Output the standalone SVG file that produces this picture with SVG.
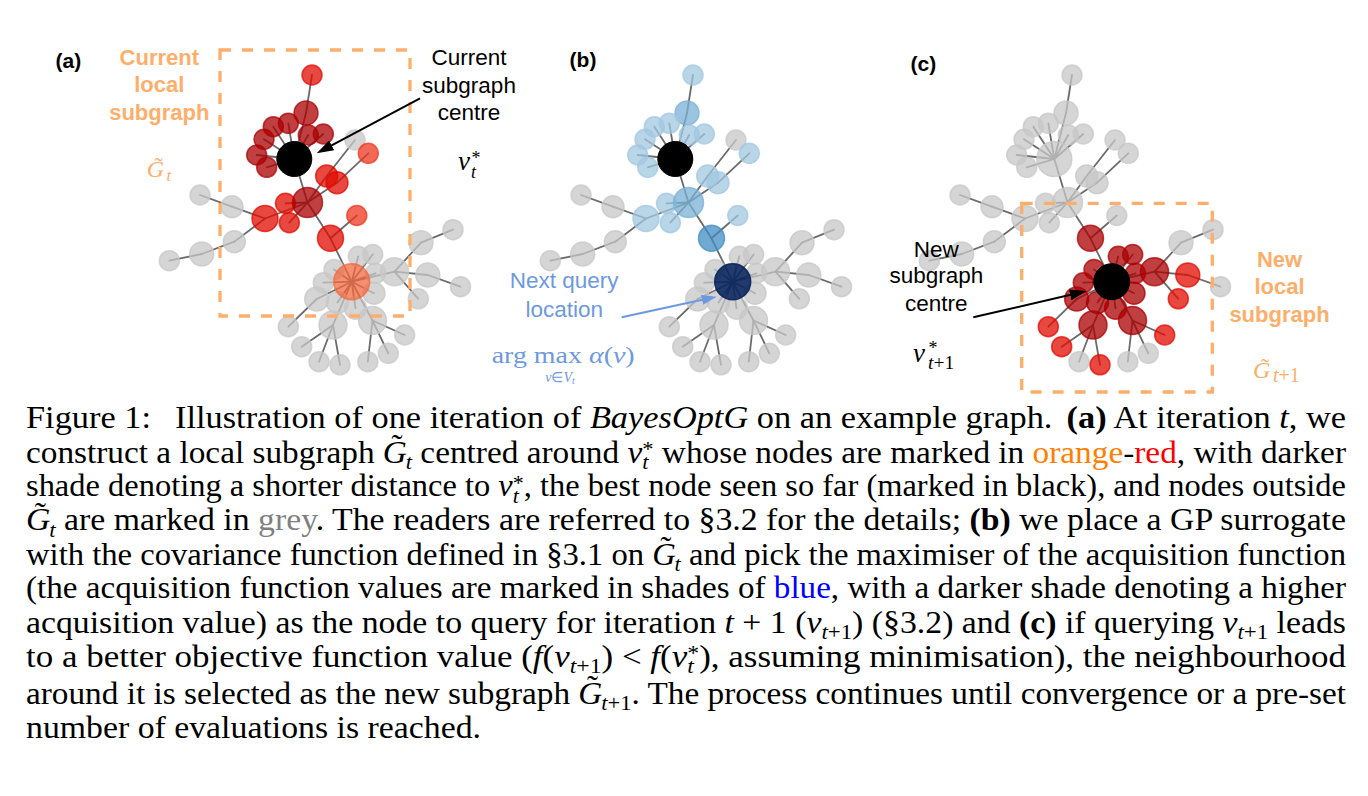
<svg xmlns="http://www.w3.org/2000/svg" width="1368" height="796" viewBox="0 0 1368 796">
<style>
.pl{font-family:"Liberation Sans",Arial,sans-serif;font-weight:bold;font-size:21px;text-anchor:middle;fill:#000}
.ol{font-family:"Liberation Sans",Arial,sans-serif;font-weight:bold;font-size:22px;text-anchor:middle;fill:#fdae6b}
.kl{font-family:"Liberation Sans",Arial,sans-serif;font-size:22.5px;text-anchor:middle;fill:#000}
.bl{font-family:"Liberation Sans",Arial,sans-serif;font-size:22.5px;text-anchor:middle;fill:#6d99e0}
.m{font-family:"Liberation Serif","Times New Roman",serif}
.cap{font-family:"Liberation Serif","Times New Roman",serif;font-size:31px;fill:#000}
.i{font-style:italic}
.bd{font-weight:bold}
.s{font-size:21px}
.gy,.dr,.mr,.lr,.or,.lb,.b2,.mb{fill-opacity:.75;stroke-opacity:.75;stroke-width:1.5}
.gy{fill:#c7c7c7;stroke:#c7c7c7}
.dr{fill:#ab0003;stroke:#ab0003}
.mr{fill:#e00b00;stroke:#e00b00}
.lr{fill:#ee3720;stroke:#ee3720}
.or{fill:#f36840;stroke:#f36840}
.lb{fill:#a2c7e0;stroke:#a2c7e0}
.b2{fill:#7ab0d7;stroke:#7ab0d7}
.mb{fill:#408ec3;stroke:#408ec3}
.nv{fill:#0a265e;stroke:#0a265e;fill-opacity:.9;stroke-opacity:.9;stroke-width:1.5}
.k{fill:#000;stroke:#000}
.box{fill:none;stroke:#fdae6b;stroke-width:3.3;stroke-dasharray:11 11}
</style>
<defs>
<marker id="ahk" viewBox="0 0 17 11" markerWidth="17" markerHeight="11" refX="7" refY="5.5" orient="auto" markerUnits="userSpaceOnUse"><path d="M0,0 L17,5.5 L0,11 z" fill="#000"/></marker>
<marker id="ahb" viewBox="0 0 15 10" markerWidth="15" markerHeight="10" refX="5" refY="5" orient="auto" markerUnits="userSpaceOnUse"><path d="M0,0 L15,5 L0,10 z" fill="#6d99e0"/></marker>
<g id="E">
<line x1="312" y1="75" x2="306" y2="113"/>
<line x1="306" y1="113" x2="294.3" y2="159"/>
<line x1="294.3" y1="159" x2="273.3" y2="126.7"/>
<line x1="294.3" y1="159" x2="288.3" y2="123.3"/>
<line x1="294.3" y1="159" x2="264" y2="139.3"/>
<line x1="294.3" y1="159" x2="256.7" y2="155"/>
<line x1="294.3" y1="159" x2="266.7" y2="167.3"/>
<line x1="294.3" y1="159" x2="308.3" y2="135"/>
<line x1="294.3" y1="159" x2="323.3" y2="134"/>
<line x1="294.3" y1="159" x2="307.5" y2="202.5"/>
<line x1="307.5" y1="202.5" x2="326.7" y2="176"/>
<line x1="326.7" y1="176" x2="355" y2="140"/>
<line x1="307.5" y1="202.5" x2="337" y2="182.7"/>
<line x1="337" y1="182.7" x2="368.3" y2="153.3"/>
<line x1="307.5" y1="202.5" x2="285.5" y2="203.3"/>
<line x1="307.5" y1="202.5" x2="289.3" y2="222.7"/>
<line x1="307.5" y1="202.5" x2="265" y2="218.5"/>
<line x1="265" y1="218.5" x2="232" y2="206.7"/>
<line x1="232" y1="206.7" x2="200" y2="195"/>
<line x1="265" y1="218.5" x2="234.3" y2="241.7"/>
<line x1="234.3" y1="241.7" x2="201.7" y2="254"/>
<line x1="201.7" y1="254" x2="169.3" y2="260.7"/>
<line x1="307.5" y1="202.5" x2="330.5" y2="238.3"/>
<line x1="330.5" y1="238.3" x2="356.8" y2="215.5"/>
<line x1="330.5" y1="238.3" x2="351.7" y2="281.7"/>
<line x1="351.7" y1="281.7" x2="358.3" y2="256.3"/>
<line x1="351.7" y1="281.7" x2="372.7" y2="254.5"/>
<line x1="351.7" y1="281.7" x2="334" y2="269.5"/>
<line x1="351.7" y1="281.7" x2="323.3" y2="282.7"/>
<line x1="351.7" y1="281.7" x2="316.7" y2="299"/>
<line x1="351.7" y1="281.7" x2="337.5" y2="302.5"/>
<line x1="351.7" y1="281.7" x2="355.5" y2="308.3"/>
<line x1="351.7" y1="281.7" x2="374" y2="293.3"/>
<line x1="351.7" y1="281.7" x2="375.5" y2="273.3"/>
<line x1="351.7" y1="281.7" x2="394.5" y2="271.7"/>
<line x1="351.7" y1="281.7" x2="333" y2="325"/>
<line x1="351.7" y1="281.7" x2="372.5" y2="320.5"/>
<line x1="316.7" y1="299" x2="288.3" y2="326.7"/>
<line x1="394.5" y1="271.7" x2="421" y2="242.7"/>
<line x1="421" y1="242.7" x2="453" y2="229.7"/>
<line x1="394.5" y1="271.7" x2="427.8" y2="275"/>
<line x1="427.8" y1="275" x2="460.5" y2="286.7"/>
<line x1="394.5" y1="271.7" x2="418.3" y2="298.8"/>
<line x1="333" y1="325" x2="301.7" y2="346.7"/>
<line x1="333" y1="325" x2="319" y2="361.7"/>
<line x1="333" y1="325" x2="340" y2="364.8"/>
<line x1="372.5" y1="320.5" x2="367.8" y2="361.7"/>
<line x1="372.5" y1="320.5" x2="388.3" y2="353.3"/>
<line x1="372.5" y1="320.5" x2="404.7" y2="335"/>
</g>
<circle id="g3" cx="200" cy="195" r="10"/>
<circle id="g2" cx="232" cy="206.7" r="11"/>
<circle id="g6" cx="169.3" cy="260.7" r="10"/>
<circle id="g5" cx="201.7" cy="254" r="12"/>
<circle id="g4" cx="234.3" cy="241.7" r="11"/>
<circle id="top" cx="312" cy="75" r="10"/>
<circle id="n2" cx="306" cy="113" r="12"/>
<circle id="a1" cx="273.3" cy="126.7" r="10"/>
<circle id="a2" cx="288.3" cy="123.3" r="10"/>
<circle id="a3" cx="264" cy="139.3" r="10"/>
<circle id="a4" cx="256.7" cy="155" r="10"/>
<circle id="a5" cx="266.7" cy="167.3" r="10"/>
<circle id="a6" cx="308.3" cy="135" r="10"/>
<circle id="a7" cx="323.3" cy="134" r="10"/>
<circle id="g1" cx="355" cy="140" r="10"/>
<circle id="lr1" cx="368.3" cy="153.3" r="10"/>
<circle id="m1" cx="326.7" cy="176" r="11"/>
<circle id="m2" cx="337" cy="182.7" r="11"/>
<circle id="m3" cx="285.5" cy="203.3" r="10"/>
<circle id="m4" cx="289.3" cy="222.7" r="10"/>
<circle id="m5" cx="265" cy="218.5" r="13"/>
<circle id="lr2" cx="356.8" cy="215.5" r="10"/>
<circle id="R1" cx="330.5" cy="238.3" r="13"/>
<circle id="H" cx="307.5" cy="202.5" r="15"/>
<circle id="x1" cx="288.3" cy="326.7" r="10"/>
<circle id="h3a" cx="301.7" cy="346.7" r="10"/>
<circle id="h3b" cx="319" cy="361.7" r="10"/>
<circle id="h3c" cx="340" cy="364.8" r="10"/>
<circle id="h4a" cx="367.8" cy="361.7" r="10"/>
<circle id="h4b" cx="388.3" cy="353.3" r="10"/>
<circle id="h4c" cx="404.7" cy="335" r="10"/>
<circle id="H3" cx="333" cy="325" r="14"/>
<circle id="H4" cx="372.5" cy="320.5" r="14"/>
<circle id="h2a" cx="421" cy="242.7" r="12"/>
<circle id="h2b" cx="453" cy="229.7" r="10"/>
<circle id="h2c" cx="427.8" cy="275" r="12"/>
<circle id="h2d" cx="460.5" cy="286.7" r="10"/>
<circle id="h2e" cx="418.3" cy="298.8" r="10"/>
<circle id="H2" cx="394.5" cy="271.7" r="14"/>
<circle id="s1" cx="358.3" cy="256.3" r="10"/>
<circle id="s2" cx="372.7" cy="254.5" r="10"/>
<circle id="s3" cx="334" cy="269.5" r="10"/>
<circle id="s4" cx="323.3" cy="282.7" r="10"/>
<circle id="s5" cx="316.7" cy="299" r="12"/>
<circle id="s6" cx="337.5" cy="302.5" r="11"/>
<circle id="s7" cx="355.5" cy="308.3" r="11"/>
<circle id="s8" cx="374" cy="293.3" r="11"/>
<circle id="s9" cx="375.5" cy="273.3" r="10"/>
<circle id="S" cx="351.7" cy="281.7" r="18"/>
<circle id="B" cx="294.3" cy="159" r="17.5"/>
</defs>
<rect width="1368" height="796" fill="#fff"/>

<g id="connectors" fill="none" stroke="#6b6b6b" stroke-width="1.8" stroke-linecap="round">
<use href="#E"/>
<use href="#E" x="381"/>
<use href="#E" x="760"/>
</g>

<g id="panel-a">
<g id="a-g3" class="gy"><use href="#g3"/></g>
<g id="a-g2" class="gy"><use href="#g2"/></g>
<g id="a-g6" class="gy"><use href="#g6"/></g>
<g id="a-g5" class="gy"><use href="#g5"/></g>
<g id="a-g4" class="gy"><use href="#g4"/></g>
<g id="a-top" class="mr"><use href="#top"/></g>
<g id="a-n2" class="dr"><use href="#n2"/></g>
<g id="a-a1" class="dr"><use href="#a1"/></g>
<g id="a-a2" class="dr"><use href="#a2"/></g>
<g id="a-a3" class="dr"><use href="#a3"/></g>
<g id="a-a4" class="dr"><use href="#a4"/></g>
<g id="a-a5" class="dr"><use href="#a5"/></g>
<g id="a-a6" class="dr"><use href="#a6"/></g>
<g id="a-a7" class="dr"><use href="#a7"/></g>
<g id="a-g1" class="gy"><use href="#g1"/></g>
<g id="a-lr1" class="lr"><use href="#lr1"/></g>
<g id="a-m1" class="mr"><use href="#m1"/></g>
<g id="a-m2" class="mr"><use href="#m2"/></g>
<g id="a-m3" class="mr"><use href="#m3"/></g>
<g id="a-m4" class="mr"><use href="#m4"/></g>
<g id="a-m5" class="mr"><use href="#m5"/></g>
<g id="a-lr2" class="lr"><use href="#lr2"/></g>
<g id="a-R1" class="mr"><use href="#R1"/></g>
<g id="a-H" class="dr"><use href="#H"/></g>
<g id="a-x1" class="gy"><use href="#x1"/></g>
<g id="a-h3a" class="gy"><use href="#h3a"/></g>
<g id="a-h3b" class="gy"><use href="#h3b"/></g>
<g id="a-h3c" class="gy"><use href="#h3c"/></g>
<g id="a-h4a" class="gy"><use href="#h4a"/></g>
<g id="a-h4b" class="gy"><use href="#h4b"/></g>
<g id="a-h4c" class="gy"><use href="#h4c"/></g>
<g id="a-H3" class="gy"><use href="#H3"/></g>
<g id="a-H4" class="gy"><use href="#H4"/></g>
<g id="a-h2a" class="gy"><use href="#h2a"/></g>
<g id="a-h2b" class="gy"><use href="#h2b"/></g>
<g id="a-h2c" class="gy"><use href="#h2c"/></g>
<g id="a-h2d" class="gy"><use href="#h2d"/></g>
<g id="a-h2e" class="gy"><use href="#h2e"/></g>
<g id="a-H2" class="gy"><use href="#H2"/></g>
<g id="a-s1" class="gy"><use href="#s1"/></g>
<g id="a-s2" class="gy"><use href="#s2"/></g>
<g id="a-s3" class="gy"><use href="#s3"/></g>
<g id="a-s4" class="gy"><use href="#s4"/></g>
<g id="a-s5" class="gy"><use href="#s5"/></g>
<g id="a-s6" class="gy"><use href="#s6"/></g>
<g id="a-s7" class="gy"><use href="#s7"/></g>
<g id="a-s8" class="gy"><use href="#s8"/></g>
<g id="a-s9" class="gy"><use href="#s9"/></g>
<g id="a-S" class="or"><use href="#S"/></g>
<g id="a-B" class="k"><use href="#B"/></g>
</g>

<g id="panel-b" transform="translate(381,0)">
<g id="b-g3" class="gy"><use href="#g3"/></g>
<g id="b-g2" class="gy"><use href="#g2"/></g>
<g id="b-g6" class="gy"><use href="#g6"/></g>
<g id="b-g5" class="gy"><use href="#g5"/></g>
<g id="b-g4" class="gy"><use href="#g4"/></g>
<g id="b-top" class="lb"><use href="#top"/></g>
<g id="b-n2" class="b2"><use href="#n2"/></g>
<g id="b-a1" class="lb"><use href="#a1"/></g>
<g id="b-a2" class="lb"><use href="#a2"/></g>
<g id="b-a3" class="lb"><use href="#a3"/></g>
<g id="b-a4" class="lb"><use href="#a4"/></g>
<g id="b-a5" class="lb"><use href="#a5"/></g>
<g id="b-a6" class="lb"><use href="#a6"/></g>
<g id="b-a7" class="lb"><use href="#a7"/></g>
<g id="b-g1" class="gy"><use href="#g1"/></g>
<g id="b-lr1" class="lb"><use href="#lr1"/></g>
<g id="b-m1" class="lb"><use href="#m1"/></g>
<g id="b-m2" class="lb"><use href="#m2"/></g>
<g id="b-m3" class="lb"><use href="#m3"/></g>
<g id="b-m4" class="lb"><use href="#m4"/></g>
<g id="b-m5" class="lb"><use href="#m5"/></g>
<g id="b-lr2" class="lb"><use href="#lr2"/></g>
<g id="b-R1" class="mb"><use href="#R1"/></g>
<g id="b-H" class="b2"><use href="#H"/></g>
<g id="b-x1" class="gy"><use href="#x1"/></g>
<g id="b-h3a" class="gy"><use href="#h3a"/></g>
<g id="b-h3b" class="gy"><use href="#h3b"/></g>
<g id="b-h3c" class="gy"><use href="#h3c"/></g>
<g id="b-h4a" class="gy"><use href="#h4a"/></g>
<g id="b-h4b" class="gy"><use href="#h4b"/></g>
<g id="b-h4c" class="gy"><use href="#h4c"/></g>
<g id="b-H3" class="gy"><use href="#H3"/></g>
<g id="b-H4" class="gy"><use href="#H4"/></g>
<g id="b-h2a" class="gy"><use href="#h2a"/></g>
<g id="b-h2b" class="gy"><use href="#h2b"/></g>
<g id="b-h2c" class="gy"><use href="#h2c"/></g>
<g id="b-h2d" class="gy"><use href="#h2d"/></g>
<g id="b-h2e" class="gy"><use href="#h2e"/></g>
<g id="b-H2" class="gy"><use href="#H2"/></g>
<g id="b-s1" class="gy"><use href="#s1"/></g>
<g id="b-s2" class="gy"><use href="#s2"/></g>
<g id="b-s3" class="gy"><use href="#s3"/></g>
<g id="b-s4" class="gy"><use href="#s4"/></g>
<g id="b-s5" class="gy"><use href="#s5"/></g>
<g id="b-s6" class="gy"><use href="#s6"/></g>
<g id="b-s7" class="gy"><use href="#s7"/></g>
<g id="b-s8" class="gy"><use href="#s8"/></g>
<g id="b-s9" class="gy"><use href="#s9"/></g>
<g id="b-S" class="nv"><use href="#S"/></g>
<g id="b-B" class="k"><use href="#B"/></g>
</g>

<g id="panel-c" transform="translate(760,0)">
<g id="c-g3" class="gy"><use href="#g3"/></g>
<g id="c-g2" class="gy"><use href="#g2"/></g>
<g id="c-g6" class="gy"><use href="#g6"/></g>
<g id="c-g5" class="gy"><use href="#g5"/></g>
<g id="c-g4" class="gy"><use href="#g4"/></g>
<g id="c-top" class="gy"><use href="#top"/></g>
<g id="c-n2" class="gy"><use href="#n2"/></g>
<g id="c-a1" class="gy"><use href="#a1"/></g>
<g id="c-a2" class="gy"><use href="#a2"/></g>
<g id="c-a3" class="gy"><use href="#a3"/></g>
<g id="c-a4" class="gy"><use href="#a4"/></g>
<g id="c-a5" class="gy"><use href="#a5"/></g>
<g id="c-a6" class="gy"><use href="#a6"/></g>
<g id="c-a7" class="gy"><use href="#a7"/></g>
<g id="c-g1" class="gy"><use href="#g1"/></g>
<g id="c-lr1" class="gy"><use href="#lr1"/></g>
<g id="c-m1" class="gy"><use href="#m1"/></g>
<g id="c-m2" class="gy"><use href="#m2"/></g>
<g id="c-m3" class="gy"><use href="#m3"/></g>
<g id="c-m4" class="gy"><use href="#m4"/></g>
<g id="c-m5" class="gy"><use href="#m5"/></g>
<g id="c-lr2" class="gy"><use href="#lr2"/></g>
<g id="c-R1" class="dr"><use href="#R1"/></g>
<g id="c-H" class="gy"><use href="#H"/></g>
<g id="c-x1" class="mr"><use href="#x1"/></g>
<g id="c-h3a" class="mr"><use href="#h3a"/></g>
<g id="c-h3b" class="gy"><use href="#h3b"/></g>
<g id="c-h3c" class="mr"><use href="#h3c"/></g>
<g id="c-h4a" class="gy"><use href="#h4a"/></g>
<g id="c-h4b" class="gy"><use href="#h4b"/></g>
<g id="c-h4c" class="mr"><use href="#h4c"/></g>
<g id="c-H3" class="dr"><use href="#H3"/></g>
<g id="c-H4" class="dr"><use href="#H4"/></g>
<g id="c-h2a" class="gy"><use href="#h2a"/></g>
<g id="c-h2b" class="gy"><use href="#h2b"/></g>
<g id="c-h2c" class="mr"><use href="#h2c"/></g>
<g id="c-h2d" class="gy"><use href="#h2d"/></g>
<g id="c-h2e" class="mr"><use href="#h2e"/></g>
<g id="c-H2" class="dr"><use href="#H2"/></g>
<g id="c-s1" class="dr"><use href="#s1"/></g>
<g id="c-s2" class="dr"><use href="#s2"/></g>
<g id="c-s3" class="dr"><use href="#s3"/></g>
<g id="c-s4" class="dr"><use href="#s4"/></g>
<g id="c-s5" class="dr"><use href="#s5"/></g>
<g id="c-s6" class="dr"><use href="#s6"/></g>
<g id="c-s7" class="dr"><use href="#s7"/></g>
<g id="c-s8" class="dr"><use href="#s8"/></g>
<g id="c-s9" class="dr"><use href="#s9"/></g>
<g id="c-S" class="k"><use href="#S"/></g>
<g id="c-B" class="gy"><use href="#B"/></g>
</g>

<g id="subgraph-boxes">
<rect class="box" x="220" y="50" width="190" height="266"/>
<rect class="box" x="1021.7" y="203.3" width="190.6" height="188.7"/>
</g>

<g id="arrows">
<line x1="420" y1="98.3" x2="325.5" y2="148.6" stroke="#000" stroke-width="2" marker-end="url(#ahk)"/>
<line x1="621.7" y1="317.3" x2="706.9" y2="298.8" stroke="#6d99e0" stroke-width="2" marker-end="url(#ahb)"/>
<line x1="973.3" y1="317.3" x2="1077" y2="293.3" stroke="#000" stroke-width="2" marker-end="url(#ahk)"/>
</g>

<g id="labels-a">
<text class="pl" x="68.3" y="67.5">(a)</text>
<text class="ol"><tspan x="159.3" y="65">Current</tspan><tspan x="159.3" y="92.3">local</tspan><tspan x="159.3" y="119.5">subgraph</tspan></text>
<text class="m" x="146.7" y="176.7" font-size="24" fill="#fdae6b"><tspan class="i">G</tspan><tspan dx="-9.5" dy="-2.7">˜</tspan><tspan class="i" font-size="17" dx="4" dy="6.5">t</tspan></text>
<text class="kl"><tspan x="469" y="65">Current</tspan><tspan x="469" y="93">subgraph</tspan><tspan x="469" y="119.5">centre</tspan></text>
<text class="m" x="458" y="170" font-size="27"><tspan class="i">v</tspan><tspan class="i" font-size="18" dx="1" dy="7.5">t</tspan><tspan font-size="18" dx="-4.5" dy="-14">*</tspan></text>
</g>

<g id="labels-b">
<text class="pl" x="583" y="67.3">(b)</text>
<text class="bl"><tspan x="564.2" y="288.3">Next query</tspan><tspan x="564.2" y="316.7">location</tspan></text>
<text class="m" x="491.7" y="363.3" font-size="24" fill="#6d99e0" textLength="143" lengthAdjust="spacingAndGlyphs">arg max <tspan class="i">α</tspan>(<tspan class="i">v</tspan>)</text>
<text class="m" x="560" y="381.5" font-size="14" fill="#6d99e0" text-anchor="middle"><tspan class="i">v</tspan>∈<tspan class="i">V</tspan><tspan font-size="10" dy="2" class="i">t</tspan></text>
</g>

<g id="labels-c">
<text class="pl" x="923.3" y="71">(c)</text>
<text class="kl"><tspan x="936.3" y="256.7">New</tspan><tspan x="936.3" y="283">subgraph</tspan><tspan x="936.3" y="310.7">centre</tspan></text>
<text class="ol"><tspan x="1279.5" y="267.3">New</tspan><tspan x="1279.5" y="294">local</tspan><tspan x="1279.5" y="321.7">subgraph</tspan></text>
<text class="m" x="913" y="361.7" font-size="27"><tspan class="i">v</tspan><tspan font-size="18" dx="3.5" dy="-7.7">*</tspan><tspan font-size="19.5" dx="-9.5" dy="14.5"><tspan class="i">t</tspan>+1</tspan></text>
<text class="m" x="1253" y="378" font-size="24" fill="#fdae6b"><tspan class="i">G</tspan><tspan dx="-9.3" dy="-3">˜</tspan><tspan font-size="20" dx="4" dy="7"><tspan class="i">t</tspan>+1</tspan></text>
</g>

<g id="caption">
<text class="cap" x="26" y="428.3" textLength="1320" lengthAdjust="spacingAndGlyphs">Figure 1: <tspan dx="14">Illustration of one iteration of </tspan><tspan class="i">BayesOptG</tspan> on an example graph. <tspan class="bd" dx="5">(a)</tspan> At iteration <tspan class="i">t</tspan>, we</text>
<text class="cap" x="26" y="462.7" textLength="1320" lengthAdjust="spacingAndGlyphs">construct a local subgraph <tspan class="i">G</tspan><tspan dx="-14.4" dy="-6.5">˜</tspan><tspan class="i s" dx="3" dy="13">t</tspan><tspan dy="-6.5"> centred around </tspan><tspan class="i">v</tspan><tspan class="i s" dy="6.5">t</tspan><tspan class="s" dx="-5.8" dy="-13">*</tspan><tspan dy="6.5"> whose nodes are marked in </tspan><tspan fill="#ff7f00">orange</tspan>-<tspan fill="#ff0000">red</tspan>, with darker</text>
<text class="cap" x="26" y="496.2" textLength="1320" lengthAdjust="spacingAndGlyphs">shade denoting a shorter distance to <tspan class="i">v</tspan><tspan class="i s" dy="6.5">t</tspan><tspan class="s" dx="-5.8" dy="-13">*</tspan><tspan dy="6.5">, the best node seen so far (marked in black), and nodes outside</tspan></text>
<text class="cap" x="26" y="530.2" textLength="1320" lengthAdjust="spacingAndGlyphs"><tspan class="i">G</tspan><tspan dx="-14.4" dy="-6.5">˜</tspan><tspan class="i s" dx="3" dy="13">t</tspan><tspan dy="-6.5"> are marked in </tspan><tspan fill="#808080">grey</tspan>. The readers are referred to §3.2 for the details; <tspan class="bd">(b)</tspan> we place a GP surrogate</text>
<text class="cap" x="26" y="564.6" textLength="1320" lengthAdjust="spacingAndGlyphs">with the covariance function defined in §3.1 on <tspan class="i">G</tspan><tspan dx="-14.4" dy="-6.5">˜</tspan><tspan class="i s" dx="3" dy="13">t</tspan><tspan dy="-6.5"> and pick the maximiser of the acquisition function</tspan></text>
<text class="cap" x="26" y="598.2" textLength="1320" lengthAdjust="spacingAndGlyphs">(the acquisition function values are marked in shades of <tspan fill="#0000ff">blue</tspan>, with a darker shade denoting a higher</text>
<text class="cap" x="26" y="632.5" textLength="1320" lengthAdjust="spacingAndGlyphs">acquisition value) as the node to query for iteration <tspan class="i">t</tspan> + 1 (<tspan class="i">v</tspan><tspan class="s" dy="6.5"><tspan class="i">t</tspan>+1</tspan><tspan dy="-6.5">) (§3.2) and </tspan><tspan class="bd">(c)</tspan> if querying <tspan class="i">v</tspan><tspan class="s" dy="6.5"><tspan class="i">t</tspan>+1</tspan><tspan dy="-6.5"> leads</tspan></text>
<text class="cap" x="26" y="666.9" textLength="1320" lengthAdjust="spacingAndGlyphs">to a better objective function value (<tspan class="i">f</tspan>(<tspan class="i">v</tspan><tspan class="s" dy="6.5"><tspan class="i">t</tspan>+1</tspan><tspan dy="-6.5">) &lt; </tspan><tspan class="i">f</tspan>(<tspan class="i">v</tspan><tspan class="i s" dy="6.5">t</tspan><tspan class="s" dx="-5.8" dy="-13">*</tspan><tspan dy="6.5">), assuming minimisation), the neighbourhood</tspan></text>
<text class="cap" x="26" y="703.9" textLength="1320" lengthAdjust="spacingAndGlyphs">around it is selected as the new subgraph <tspan class="i">G</tspan><tspan dx="-14.4" dy="-6.5">˜</tspan><tspan class="s" dx="3" dy="13"><tspan class="i">t</tspan>+1</tspan><tspan dy="-6.5">. The process continues until convergence or a pre-set</tspan></text>
<text class="cap" x="26" y="737.5" textLength="455" lengthAdjust="spacingAndGlyphs">number of evaluations is reached.</text>
</g>
</svg>
